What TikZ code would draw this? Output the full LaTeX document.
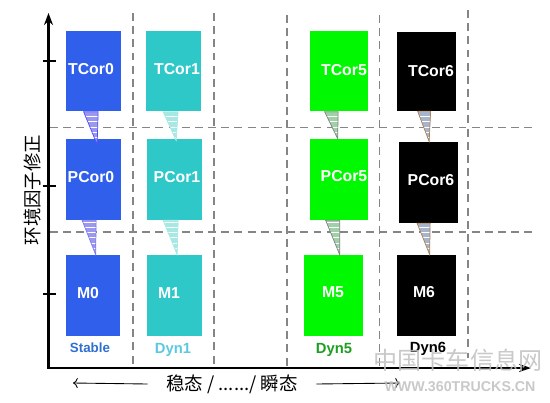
\documentclass[tikz,border=0pt]{standalone}
\usepackage{fontspec}
\setmainfont{Liberation Sans}
\newfontfamily\cjk{Noto Sans CJK SC}
\usetikzlibrary{patterns,arrows.meta}
\definecolor{stableblue}{HTML}{2F5FEB}
\definecolor{dynteal}{HTML}{2EC8C8}
\definecolor{dyngreen}{HTML}{00F800}
\definecolor{gridgray}{HTML}{858585}
\definecolor{wedgeblue}{HTML}{9C98EE}
\definecolor{wedgeteal}{HTML}{A8E8E4}
\definecolor{wedgegreen}{HTML}{A0D0A8}
\definecolor{wedgegray}{HTML}{A8B4CC}
\begin{document}
\begin{tikzpicture}[x=0.02cm, y=-0.02cm,
    box/.style={rectangle, inner sep=0pt, minimum width=1.12cm, minimum height=1.62cm},
    tag/.style={text=white, font=\bfseries\fontsize{9}{10}\selectfont},
    foot/.style={font=\bfseries\fontsize{8.4}{10}\selectfont},
    grid line/.style={draw=gridgray, line width=0.7pt, dash pattern=on 4.5pt off 3pt},
    wedge/.style={line width=0.4pt, pattern=horizontal lines, pattern color=white}]
    \useasboundingbox (0,0) rectangle (550,402);
    \coordinate (origin) at (48.5,368);
    \coordinate (ytop) at (48.5,13);
    \coordinate (xend) at (531,368);
    \coordinate (leftend) at (73,383);
    \coordinate (rightend) at (400,383);
    \coordinate (g1a) at (133,13);
    \coordinate (g1b) at (133,368);
    \coordinate (g2a) at (214,13);
    \coordinate (g2b) at (214,368);
    \coordinate (g3a) at (287,15);
    \coordinate (g3b) at (287,368);
    \coordinate (g4a) at (379.5,15);
    \coordinate (g4b) at (379.5,368);
    \coordinate (g5a) at (468,10);
    \coordinate (g5b) at (468,358);
    \coordinate (h1a) at (50,127.5);
    \coordinate (h1b) at (535,127.5);
    \coordinate (h2a) at (50,232);
    \coordinate (h2b) at (535,232);

    \draw[grid line] (g1a) -- (g1b);
    \draw[grid line] (g2a) -- (g2b);
    \draw[grid line] (g3a) -- (g3b);
    \draw[grid line] (g4a) -- (g4b);
    \draw[grid line] (g5a) -- (g5b);
    \draw[grid line] (h1a) -- (h1b);
    \draw[grid line] (h2a) -- (h2b);

    \node[box, fill=stableblue, label={[tag, xshift=-0.05cm, yshift=0.04cm]center:TCor0}] (t0) at (93.5,71) {};
    \node[box, fill=stableblue, label={[tag, xshift=-0.05cm, yshift=0.05cm]center:PCor0}] (p0) at (93.5,179.5) {};
    \node[box, fill=stableblue, minimum width=1.08cm, label={[tag, xshift=-0.1cm, yshift=0.05cm]center:M0}] (m0) at (93,295.5) {};
    \node[box, fill=dynteal, label={[tag, xshift=0.07cm, yshift=0.04cm]center:TCor1}] (t1) at (173.5,71) {};
    \node[box, fill=dynteal, label={[tag, xshift=0.05cm, yshift=0.05cm]center:PCor1}] (p1) at (174.5,179.5) {};
    \node[box, fill=dynteal, label={[tag, xshift=-0.11cm, yshift=0.05cm]center:M1}] (m1) at (174.5,295.5) {};
    \node[box, fill=dyngreen, minimum width=1.16cm, label={[tag, xshift=0.1cm, yshift=0.02cm]center:TCor5}] (t5) at (339,71) {};
    \node[box, fill=dyngreen, minimum width=1.16cm, label={[tag, xshift=0.1cm, yshift=0.07cm]center:PCor5}] (p5) at (339,179.5) {};
    \node[box, fill=dyngreen, minimum width=1.18cm, label={[tag, xshift=-0.01cm, yshift=0.07cm]center:M5}] (m5) at (333.5,295.5) {};
    \node[box, fill=black, minimum width=1.18cm, minimum height=1.58cm, label={[tag, xshift=0.09cm, yshift=0.01cm]center:TCor6}] (t6) at (426.5,71.5) {};
    \node[box, fill=black, minimum width=1.18cm, label={[tag, xshift=0.06cm, yshift=0.05cm]center:PCor6}] (p6) at (428,182.5) {};
    \node[box, fill=black, minimum width=1.18cm, label={[tag, xshift=-0.05cm, yshift=0.07cm]center:M6}] (m6) at (426.5,295.5) {};

    \draw[wedge, draw=blue!70!white, preaction={fill=wedgeblue}] ([xshift=0.37cm]t0.south west) -- ([xshift=0.66cm]t0.south west) -- ([xshift=0.64cm, yshift=-0.12cm]p0.north west) -- cycle;
    \draw[wedge, draw=wedgeteal, preaction={fill=wedgeteal}] ([xshift=0.36cm]t1.south west) -- ([xshift=0.66cm]t1.south west) -- ([xshift=0.6cm, yshift=-0.04cm]p1.north west) -- cycle;
    \draw[wedge, draw=gray, preaction={fill=wedgegreen}] ([xshift=0.3cm]t5.south west) -- ([xshift=0.57cm]t5.south west) -- ([xshift=0.56cm]p5.north west) -- cycle;
    \draw[wedge, draw=brown!70!gray, preaction={fill=wedgegray}] ([xshift=0.42cm]t6.south west) -- ([xshift=0.68cm]t6.south west) -- ([xshift=0.62cm]p6.north west) -- cycle;
    \draw[wedge, draw=wedgeblue!80!blue, preaction={fill=wedgeblue}] ([xshift=0.34cm]p0.south west) -- ([xshift=0.62cm]p0.south west) -- ([xshift=0.6cm]m0.north west) -- cycle;
    \draw[wedge, draw=wedgeteal, preaction={fill=wedgeteal}] ([xshift=0.34cm]p1.south west) -- ([xshift=0.64cm]p1.south west) -- ([xshift=0.62cm]m1.north west) -- cycle;
    \draw[wedge, draw=gray, preaction={fill=wedgegreen}] ([xshift=0.32cm]p5.south west) -- ([xshift=0.6cm]p5.south west) -- ([xshift=0.72cm]m5.north west) -- cycle;
    \draw[wedge, draw=brown!70!gray, preaction={fill=wedgegray}] ([xshift=0.38cm]p6.south west) -- ([xshift=0.64cm]p6.south west) -- ([xshift=0.66cm]m6.north west) -- cycle;

    \node[foot, text={rgb,255:red,47;green,111;blue,208}, font=\bfseries\fontsize{7.6}{9}\selectfont] (stable) at (90,348) {Stable};
    \node[foot, text={rgb,255:red,92;green,200;blue,224}] (dyn1) at (173,350) {Dyn1};
    \node[foot, text={rgb,255:red,30;green,158;blue,30}] (dyn5) at (334,350) {Dyn5};
    \node[foot, text=black] (dyn6) at (428,349) {Dyn6};

    \draw[line width=1.2pt, {Stealth[length=0.24cm,width=0.18cm]}-{Stealth[length=0.24cm,width=0.16cm]}] (ytop) -- (origin) -- (xend);
    \draw[line width=1.1pt] (43,61) -- (56,61);
    \draw[line width=1.1pt] (43,186) -- (56,186);
    \draw[line width=1.1pt] (43,294) -- (56,294);

    \node[rotate=90, font=\cjk\fontsize{10.5}{12}\selectfont] (ylabel) at (32,190) {环境因子修正};
    \node[font=\cjk\fontsize{10.5}{12}\selectfont] (xlabel) at (232,384) {稳态 / ....../ 瞬态};
    \draw[->, line width=0.5pt] (xlabel.west) ++(-0.25cm,0) -- (leftend);
    \draw[->, line width=0.5pt] (xlabel.east) ++(0.25cm,0) -- (rightend);

    \node[text=gray!50, opacity=0.85, font=\cjk\fontsize{13.7}{15}\selectfont] (mark1) at (458,360) {中国卡车信息网};
    \node[text=gray!50, opacity=0.85, font=\bfseries\fontsize{8.1}{10}\selectfont] (mark2) at (460,387) {WWW.360TRUCKS.CN};
\end{tikzpicture}
\end{document}
